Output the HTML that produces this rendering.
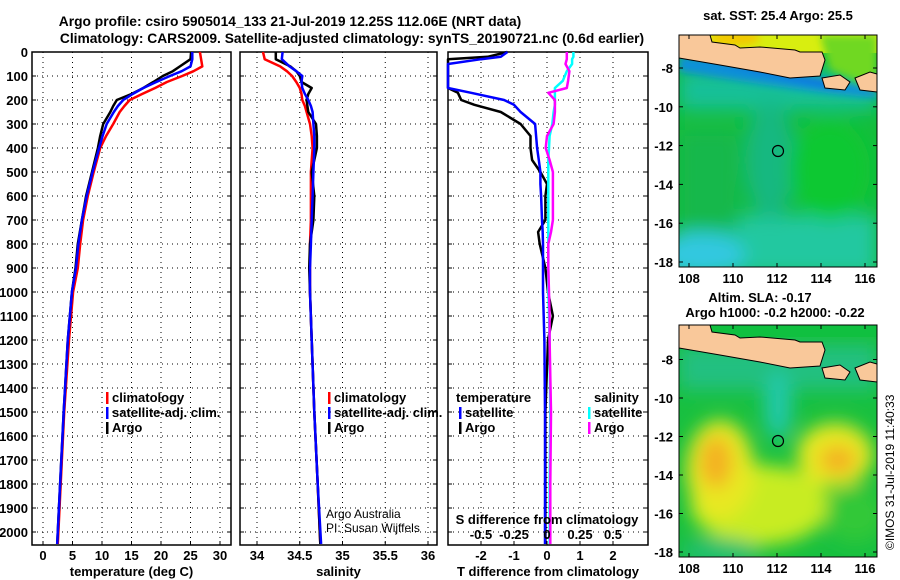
<!DOCTYPE html>
<html><head><meta charset="utf-8"><style>
body{margin:0;background:#fff}
svg{display:block;font-family:"Liberation Sans",sans-serif}
.t{font-size:13.8px;font-weight:bold}
.k{font-size:13px;font-weight:bold}
</style></head><body>
<svg id="c" width="900" height="580" viewBox="0 0 900 580">
<defs>
<filter id="bl" x="-20%" y="-20%" width="140%" height="140%"><feGaussianBlur stdDeviation="9"/></filter>
<filter id="bl2" x="-20%" y="-20%" width="140%" height="140%"><feGaussianBlur stdDeviation="4"/></filter>
<clipPath id="m1"><rect x="679" y="35" width="198" height="232"/></clipPath>
<clipPath id="m2"><rect x="679" y="325" width="198" height="232"/></clipPath>
</defs>
<text class="t" x="290" y="26" text-anchor="middle">Argo profile: csiro 5905014_133 21-Jul-2019 12.25S 112.06E (NRT data)</text>
<text class="t" x="352" y="43" text-anchor="middle">Climatology: CARS2009. Satellite-adjusted climatology: synTS_20190721.nc (0.6d earlier)</text>
<g id="p1"></g>
<g id="p2"></g>
<g id="p3"></g>

<g>
<text class="k" x="778" y="20" text-anchor="middle">sat. SST: 25.4 Argo: 25.5</text>
<g clip-path="url(#m1)">
<rect x="679" y="35" width="198" height="232" fill="#14be3c"/>
<g filter="url(#bl)">
<rect x="679" y="215" width="198" height="60" fill="#20c8a0"/>
<ellipse cx="700" cy="255" rx="45" ry="22" fill="#30c8e0"/>
<rect x="679" y="70" width="198" height="40" fill="#18c098"/>
<ellipse cx="770" cy="160" rx="25" ry="60" fill="#18b880"/>
<rect x="679" y="130" width="60" height="100" fill="#16b84c"/>
<ellipse cx="830" cy="170" rx="40" ry="50" fill="#10c830"/>
</g>
<g filter="url(#bl2)">
<polygon points="679,55 760,66 820,78 877,88 877,98 820,92 760,84 679,72" fill="#1090d8"/>
<polygon points="700,58 760,72 800,80 840,88 840,84 800,76 760,68 700,56" fill="#1858e8"/>
</g>
<rect x="679" y="35" width="198" height="18" fill="#d8ee10"/>
<ellipse cx="735" cy="38" rx="25" ry="8" fill="#f2c800" filter="url(#bl2)"/>
<polygon points="820,35 877,35 877,90 830,70" fill="#70d820" filter="url(#bl2)"/>
<polygon points="679,35 710,35 712,42 735,45 740,48 760,47 795,50 800,52 822,52 825,60 820,76 790,78 760,72 720,65 679,58" fill="#f9c89a" stroke="#000" stroke-width="1"/>
<polygon points="822,78 840,75 850,82 845,90 825,88" fill="#f9c89a" stroke="#000" stroke-width="1"/>
<polygon points="855,78 870,72 877,74 877,92 860,90" fill="#f9c89a" stroke="#000" stroke-width="1"/>
</g>
<rect x="679" y="35" width="198" height="232" fill="none" stroke="#000"/>
<circle cx="778" cy="151" r="5.5" fill="none" stroke="#000" stroke-width="1.2"/>
<g id="ax1"></g>
</g>

<g>
<text class="k" x="760" y="302" text-anchor="middle">Altim. SLA: -0.17</text>
<text class="k" x="775" y="317" text-anchor="middle">Argo h1000: -0.2 h2000: -0.22</text>
<g clip-path="url(#m2)">
<rect x="679" y="325" width="198" height="232" fill="#18c040"/>
<g filter="url(#bl)">
<rect x="679" y="345" width="198" height="45" fill="#20c080"/>
<ellipse cx="778" cy="405" rx="14" ry="35" fill="#20c8a8"/>
<ellipse cx="760" cy="505" rx="70" ry="40" fill="#c8ec20"/>
<ellipse cx="720" cy="470" rx="34" ry="50" fill="#e8e820"/>
<ellipse cx="716" cy="462" rx="16" ry="26" fill="#f4b020"/>
<ellipse cx="835" cy="455" rx="38" ry="32" fill="#e8e820"/>
<ellipse cx="838" cy="460" rx="18" ry="14" fill="#f4b020"/>
<ellipse cx="855" cy="515" rx="30" ry="28" fill="#30c838"/>
<ellipse cx="720" cy="552" rx="40" ry="14" fill="#20c070"/>
</g>
<rect x="679" y="325" width="198" height="12" fill="#10c040"/>
<polygon points="679,325 710,325 712,332 735,335 740,338 760,337 795,340 800,342 822,342 825,350 820,366 790,368 760,362 720,355 679,348" fill="#f9c89a" stroke="#000" stroke-width="1"/>
<polygon points="822,368 840,365 850,372 845,380 825,378" fill="#f9c89a" stroke="#000" stroke-width="1"/>
<polygon points="855,368 870,362 877,364 877,382 860,380" fill="#f9c89a" stroke="#000" stroke-width="1"/>
</g>
<rect x="679" y="325" width="198" height="232" fill="none" stroke="#000"/>
<circle cx="778" cy="441" r="5.5" fill="none" stroke="#000" stroke-width="1.2"/>
<g id="ax2"></g>
</g>
<text x="894" y="550" font-size="12" transform="rotate(-90 894 550)">©IMOS 31-Jul-2019 11:40:33</text>
</svg>
<script>
const depthTicks=[0,100,200,300,400,500,600,700,800,900,1000,1100,1200,1300,1400,1500,1600,1700,1800,1900,2000];
const tTicks=[0,5,10,15,20,25,30];
const sTicks=[34,34.5,35,35.5,36];
const sTickLabels=["34","34.5","35","35.5","36"];
const dTTicks=[-2,-1,0,1,2];
const dSTicks=[-0.5,-0.25,0,0.25,0.5];
const dSTickLabels=["-0.5","-0.25","0","0.25","0.5"];
const depths=[0,30,60,80,100,125,150,175,200,225,250,300,350,400,500,600,700,800,900,1000,1200,1500,1800,2050];
const tClim=[26.6,26.8,27.0,25.5,23.6,21.0,19.0,16.8,14.7,13.8,13.0,11.9,10.7,9.7,8.6,7.6,6.8,6.3,5.9,5.1,4.4,3.6,3.0,2.5];
const tSat=[25.3,25.3,25.0,23.5,21.5,19.2,17.0,15.2,13.6,12.7,12.0,10.8,10.1,9.5,8.4,7.4,6.6,6.0,5.6,4.9,4.2,3.5,2.9,2.4];
const tArgo=[25.1,25.0,23.2,22.0,20.3,18.7,17.0,15.0,12.5,11.9,11.4,10.2,9.7,9.3,8.3,7.3,6.6,5.9,5.5,4.9,4.2,3.5,2.9,2.4];
const sClim=[34.07,34.09,34.27,34.35,34.41,34.46,34.5,34.52,34.53,34.56,34.58,34.62,34.64,34.65,34.63,34.63,34.63,34.62,34.62,34.62,34.64,34.67,34.71,34.74];
const sSat=[34.3,34.29,34.38,34.46,34.53,34.52,34.53,34.56,34.6,34.63,34.65,34.66,34.67,34.67,34.66,34.65,34.64,34.63,34.62,34.62,34.64,34.67,34.71,34.75];
const sArgo=[34.22,34.22,34.39,34.46,34.5,34.52,34.64,34.6,34.58,34.59,34.6,34.69,34.7,34.7,34.64,34.67,34.66,34.62,34.61,34.62,34.64,34.67,34.71,34.74];
const diffDepths=[0,20,30,50,80,120,150,170,200,220,250,300,350,400,450,500,550,600,700,750,800,900,1000,1100,1200,1500,1800,2050];
const dTArgo=[-1.2,-1.8,-3.2,-3.2,-3.2,-3.2,-3.2,-2.7,-2.6,-2.2,-1.4,-0.8,-0.5,-0.5,-0.45,-0.2,0,-0.05,-0.05,-0.27,-0.22,-0.05,0.03,0.18,0.03,-0.05,-0.05,-0.05];
const dTSat=[-1.2,-1.4,-2.0,-3.2,-3.2,-3.2,-3.2,-2.3,-1.3,-1.0,-0.8,-0.36,-0.33,-0.3,-0.25,-0.2,-0.2,-0.18,-0.15,-0.13,-0.12,-0.12,-0.12,-0.1,-0.08,-0.06,-0.06,-0.06];
const dSArgo=[0.15,0.15,0.15,0.14,0.17,0.16,0.15,0.01,0.06,0.06,0.06,0.05,0,-0.01,0.02,0.045,0.045,0.045,0.045,0.03,0.01,0.01,0.015,0.02,0.02,0.03,0.025,0.025];
const dSSat=[0.2,0.2,0.19,0.19,0.15,0.12,0.06,0.06,0.06,0.06,0.05,0.04,0.02,0.015,0.01,0.01,0.01,0.01,0.01,0.01,0.01,0.01,0.01,0.015,0.02,0.025,0.02,0.02];
const lonTicks=[108,110,112,114,116];
const latTicks=[-8,-10,-12,-14,-16,-18];

const NS='http://www.w3.org/2000/svg';
const Y0=52,Y1=545,yD=d=>Y0+d*0.24;
const xT=v=>43+v*5.9;
const xS=v=>257+(v-34)*85.5;
const xDT=v=>547+v*33;
const xDS=v=>547+v*132;
const xLon=v=>689+(v-108)*22;
const yLat1=v=>68+(-8-v)*19.4;
const yLat2=v=>359.5+(-8-v)*19.25;
function el(t,a,p){const e=document.createElementNS(NS,t);for(const k in a)e.setAttribute(k,a[k]);p.appendChild(e);return e;}
function txt(p,x,y,s,anc,cls){const e=el('text',{x:x,y:y,'text-anchor':anc||'middle',class:cls||'k'},p);e.textContent=s;return e;}

function panel(g,x0,x1,xticks,xf,labels,title,yLabels){
  el('rect',{x:x0,y:Y0,width:x1-x0,height:Y1-Y0,fill:'none',stroke:'#000','stroke-width':1.5},g);
  depthTicks.forEach(d=>{
    const l=el('line',{x1:x0,x2:x1,y1:yD(d),y2:yD(d),stroke:'#000','stroke-dasharray':'1 4'},g);
    
    
    el('line',{x1:x0,x2:x0+4,y1:yD(d),y2:yD(d),stroke:'#000'},g);
    el('line',{x1:x1-4,x2:x1,y1:yD(d),y2:yD(d),stroke:'#000'},g);
    if(yLabels){const t=txt(g,28,yD(d)+5,String(d),'end');
      
      }
  });
  xticks.forEach((v,i)=>{
    const x=xf(v);
    const l=el('line',{x1:x,x2:x,y1:Y0,y2:Y1,stroke:'#000','stroke-dasharray':'1 4'},g);
    
    
    el('line',{x1:x,x2:x,y1:Y1-4,y2:Y1,stroke:'#000'},g);
    const t=txt(g,x,560,labels?labels[i]:String(v));
    
    
  });
  const tt=txt(g,(x0+x1)/2,576,title);
  
  
}
function line(g,ys,xs,xf,col,name,x0,x1){
  let d='';xs.forEach((v,i)=>{let x=Math.max(x0,Math.min(x1,xf(v)));d+=(i?'L':'M')+x.toFixed(1)+','+yD(ys[i]).toFixed(1);});
  const p=el('path',{d:d,fill:'none',stroke:col,'stroke-width':2.5,'stroke-linejoin':'round'},g);
  
  
}
function legend(g,x,y,items){
  items.forEach((it,i)=>{
    el('rect',{x:x,y:y+i*15-10,width:2.5,height:12,fill:it[1]},g);
    const t=txt(g,x+6,y+i*15,it[0],'start');
    
    
  });
}
const p1=document.getElementById('p1'),p2=document.getElementById('p2'),p3=document.getElementById('p3');
panel(p1,32,231,tTicks,xT,null,'temperature (deg C)',true);
line(p1,depths,tClim,xT,'#f00','temp-climatology-line',32,231);
line(p1,depths,tArgo,xT,'#000','temp-argo-line',32,231);
line(p1,depths,tSat,xT,'#00f','temp-satellite-line',32,231);
legend(p1,106,402,[['climatology','#f00'],['satellite-adj. clim.','#00f'],['Argo','#000']]);

panel(p2,240,437,sTicks,xS,sTickLabels,'salinity',false);
line(p2,depths,sClim,xS,'#f00','sal-climatology-line',240,437);
line(p2,depths,sArgo,xS,'#000','sal-argo-line',240,437);
line(p2,depths,sSat,xS,'#00f','sal-satellite-line',240,437);
legend(p2,328,402,[['climatology','#f00'],['satellite-adj. clim.','#00f'],['Argo','#000']]);
let a=el('text',{x:326,y:518,'font-size':12},p2);a.textContent='Argo Australia';

a=el('text',{x:326,y:532,'font-size':12},p2);a.textContent='PI: Susan Wijffels';


panel(p3,448,648,dTTicks,xDT,null,'T difference from climatology',false);
line(p3,diffDepths,dTArgo,xDT,'#000','tdiff-argo-line',448,648);
line(p3,diffDepths,dTSat,xDT,'#00f','tdiff-satellite-line',448,648);
line(p3,diffDepths,dSSat,xDS,'#0ff','sdiff-satellite-line',448,648);
line(p3,diffDepths,dSArgo,xDS,'#f0f','sdiff-argo-line',448,648);
a=txt(p3,456,402,'temperature','start');
legend(p3,459,417,[['satellite','#00f'],['Argo','#000']]);
a=txt(p3,594,402,'salinity','start');
legend(p3,588,417,[['satellite','#0ff'],['Argo','#f0f']]);
a=txt(p3,547,524,'S difference from climatology');
dSTicks.forEach((v,i)=>{const t=txt(p3,xDS(v),539,dSTickLabels[i]);
  });

function mapAxes(id,top,bot,yf){
  const g=document.getElementById(id);
  lonTicks.forEach(v=>{const x=xLon(v);
    el('line',{x1:x,x2:x,y1:bot-4,y2:bot,stroke:'#000'},g);el('line',{x1:x,x2:x,y1:top,y2:top+4,stroke:'#000'},g);
    const t=txt(g,x,bot+16,String(v));});
  latTicks.forEach(v=>{const y=yf(v);
    el('line',{x1:679,x2:683,y1:y,y2:y,stroke:'#000'},g);el('line',{x1:873,x2:877,y1:y,y2:y,stroke:'#000'},g);
    const t=txt(g,673,y+5,String(v),'end');});
}
mapAxes('ax1',35,267,yLat1);
mapAxes('ax2',325,557,yLat2);
</script>
</body></html>
